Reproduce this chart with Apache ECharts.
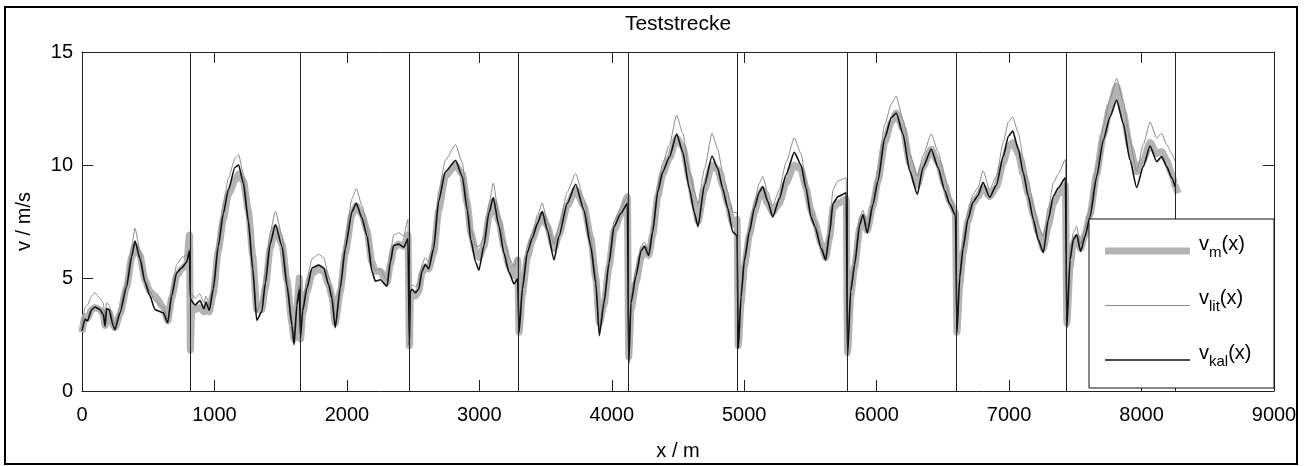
<!DOCTYPE html>
<html><head><meta charset="utf-8">
<script src="https://cdn.jsdelivr.net/npm/echarts@6/dist/echarts.min.js"></script>
<style>html,body{margin:0;padding:0;background:#fff}#c{width:1305px;height:466px}</style>
</head><body><div id="c"></div>
<script>
// distance along the test track (m)
const distance = [
  0, 23, 40, 73, 98, 136, 161, 174, 186, 204, 236, 249, 287, 337, 375, 400, 438, 476, 513, 551, 614, 647, 677, 715, 753, 790, 812,
  818, 828, 853, 891, 921, 936, 961, 991, 1029, 1067, 1105, 1155, 1183, 1218, 1256, 1289, 1319, 1357, 1385, 1420, 1460, 1510, 1548, 1585, 1601, 1623, 1641,
  1650, 1666, 1699, 1737, 1787, 1825, 1862, 1887, 1912, 1950, 1988, 2038, 2071, 2114, 2152, 2189, 2215, 2252, 2303, 2328, 2353, 2391, 2429, 2461,
  2472, 2479, 2492, 2517, 2542, 2567, 2592, 2617, 2655, 2693, 2743, 2821, 2871, 2909, 2935, 2972, 2997, 3035, 3073, 3105, 3148, 3186, 3224, 3262, 3289,
  3300, 3325, 3362, 3400, 3440, 3475, 3513, 3564, 3601, 3664, 3727, 3790, 3841, 3879, 3906, 3941, 3979, 4017, 4067, 4118,
  4128, 4145, 4183, 4221, 4246, 4279, 4309, 4347, 4385, 4435, 4490, 4536, 4586, 4623, 4651, 4699, 4757, 4800, 4837, 4875, 4913, 4946,
  4955, 4976, 5001, 5039, 5077, 5114, 5139, 5177, 5215, 5265, 5315, 5378, 5429, 5466, 5504, 5532, 5582, 5615, 5645, 5670, 5708, 5770,
  5780, 5804, 5834, 5872, 5897, 5929, 5972, 6010, 6061, 6111, 6148, 6199, 6249, 6307, 6350, 6412, 6463, 6514, 6551, 6595,
  6606, 6627, 6652, 6689, 6727, 6765, 6803, 6853, 6903, 6956, 6994, 7027, 7070, 7107, 7145, 7183, 7220, 7258, 7296, 7334, 7371, 7425,
  7436, 7460, 7485, 7510, 7540, 7573, 7611, 7661, 7711, 7762, 7812, 7862, 7912, 7963, 8013, 8064, 8114, 8152, 8190, 8228, 8253, 8275
];
// measured speed v_m(x) (m/s)
const vM = [
  2.60, 3.30, 3.20, 3.60, 3.70, 3.60, 3.40, 2.90, 3.50, 3.50, 2.90, 2.80, 3.40, 4.60, 5.90, 6.40, 6.00, 4.90, 4.40, 4.20, 3.70, 3.10, 4.10, 5.10, 5.40, 5.60, 6.90,
  1.80, 3.60, 3.60, 3.70, 3.50, 3.70, 3.50, 4.30, 6.20, 7.60, 8.70, 9.30, 9.60, 9.30, 8.00, 6.00, 3.60, 3.60, 4.60, 6.30, 7.20, 6.50, 4.90, 3.00, 2.30, 3.70, 5.00,
  2.30, 3.40, 4.40, 5.20, 5.40, 5.30, 4.70, 4.20, 3.00, 4.40, 6.10, 7.80, 8.20, 7.80, 7.10, 5.70, 5.30, 5.30, 4.80, 5.60, 6.30, 6.50, 6.40, 6.90,
  2.00, 4.00, 4.30, 4.20, 4.40, 5.20, 5.50, 5.40, 6.10, 8.00, 9.50, 10.00, 9.60, 8.30, 7.00, 6.20, 5.90, 6.40, 7.70, 8.40, 7.50, 6.40, 5.50, 5.10, 5.80,
  2.60, 4.30, 5.90, 6.70, 7.30, 7.80, 7.30, 6.30, 6.90, 8.20, 8.90, 8.20, 6.80, 5.00, 3.00, 3.80, 5.50, 7.10, 7.80, 8.60,
  1.50, 3.60, 4.80, 5.90, 6.30, 6.00, 6.90, 8.60, 9.60, 10.30, 11.20, 10.80, 9.40, 8.30, 7.50, 8.90, 10.00, 9.80, 9.10, 8.30, 7.40, 7.60,
  2.00, 3.90, 5.50, 6.90, 7.90, 8.60, 8.90, 8.30, 7.90, 8.30, 9.20, 10.00, 9.80, 9.00, 8.00, 7.50, 6.50, 5.90, 6.80, 8.10, 8.30, 8.50,
  1.70, 4.20, 5.50, 7.20, 7.70, 7.10, 8.20, 9.30, 11.00, 11.90, 12.30, 11.60, 10.10, 9.10, 9.90, 10.70, 10.10, 9.10, 8.40, 7.90,
  2.60, 4.70, 6.10, 7.50, 8.30, 8.60, 9.00, 8.60, 9.00, 10.10, 10.80, 11.00, 10.50, 9.60, 8.70, 7.80, 7.00, 6.30, 7.30, 8.30, 8.70, 9.10,
  3.00, 5.50, 6.50, 6.80, 6.30, 6.90, 7.80, 9.60, 11.30, 12.60, 13.50, 12.30, 10.80, 9.70, 10.20, 11.00, 10.50, 10.60, 10.20, 9.60, 9.10, 8.75
];
// literature model v_lit(x) (m/s)
const vLit = [
  3.00, 3.70, 3.80, 4.20, 4.35, 4.10, 3.90, 3.20, 3.90, 3.80, 3.10, 2.90, 3.70, 4.90, 6.40, 7.20, 6.20, 4.90, 4.40, 4.00, 3.70, 3.20, 4.50, 5.60, 5.90, 6.00, 6.30,
  4.30, 4.30, 4.10, 4.30, 3.90, 4.20, 3.80, 4.80, 6.80, 8.30, 9.40, 10.30, 10.45, 9.60, 7.80, 5.60, 3.50, 4.00, 5.30, 7.00, 7.95, 6.90, 5.00, 3.20, 2.30, 4.10, 4.70,
  2.50, 3.80, 5.00, 5.85, 6.05, 5.90, 5.10, 4.40, 3.00, 4.80, 6.70, 8.50, 8.95, 8.20, 7.30, 5.60, 5.35, 5.40, 4.90, 6.10, 6.90, 7.00, 6.85, 7.60,
  2.10, 4.60, 4.70, 4.60, 4.80, 5.60, 5.90, 5.70, 6.60, 8.80, 10.20, 10.90, 10.10, 8.50, 7.20, 6.40, 6.40, 6.80, 8.30, 9.20, 7.80, 6.70, 5.90, 5.50, 5.90,
  2.80, 4.80, 6.40, 7.00, 7.80, 8.32, 7.50, 6.50, 7.30, 8.80, 9.62, 8.50, 6.80, 5.10, 2.70, 4.10, 5.90, 7.50, 8.10, 8.60,
  1.30, 4.20, 5.40, 6.40, 6.60, 6.20, 7.30, 9.10, 10.10, 10.90, 12.20, 11.40, 9.70, 8.80, 8.30, 9.80, 11.40, 10.70, 9.70, 8.80, 7.90, 7.90,
  2.00, 4.40, 6.00, 7.30, 8.40, 9.20, 9.50, 8.80, 8.20, 8.90, 10.10, 11.20, 10.50, 9.30, 8.00, 7.60, 6.50, 5.95, 7.40, 8.90, 9.30, 9.43,
  1.70, 4.70, 6.00, 7.70, 8.00, 7.30, 8.60, 9.80, 11.80, 12.70, 13.05, 12.00, 10.50, 9.50, 10.40, 11.38, 10.60, 9.50, 8.60, 8.00,
  2.70, 5.30, 6.60, 7.90, 8.70, 9.00, 9.75, 8.90, 9.50, 11.00, 11.90, 12.12, 11.40, 10.30, 9.30, 8.20, 7.30, 6.85, 8.10, 9.20, 9.60, 10.24,
  3.00, 6.10, 7.00, 7.28, 6.50, 7.20, 8.10, 10.00, 11.70, 12.90, 13.84, 12.80, 11.10, 9.70, 10.90, 11.90, 11.20, 11.40, 10.90, 10.50, 10.16, null
];
// calibrated model v_kal(x) (m/s)
const vKal = [
  2.66, 3.18, 3.10, 3.60, 3.72, 3.60, 3.38, 2.87, 3.65, 3.60, 2.87, 2.72, 3.46, 4.63, 5.95, 6.63, 5.85, 4.80, 4.20, 3.60, 3.46, 3.02, 4.20, 5.23, 5.45, 5.70, 6.20,
  4.10, 3.98, 3.80, 4.00, 3.64, 3.94, 3.57, 4.50, 6.40, 7.85, 8.90, 9.90, 10.00, 9.20, 7.50, 5.40, 3.13, 3.50, 4.80, 6.50, 7.37, 6.40, 4.65, 2.90, 2.05, 3.80, 4.50,
  2.37, 3.54, 4.57, 5.45, 5.57, 5.45, 4.70, 4.10, 2.80, 4.57, 6.30, 7.93, 8.30, 7.65, 6.85, 5.30, 4.86, 4.92, 4.63, 5.70, 6.44, 6.50, 6.36, 6.73,
  2.00, 4.40, 4.50, 4.35, 4.50, 5.30, 5.60, 5.40, 6.30, 8.40, 9.70, 10.20, 9.50, 8.00, 6.70, 5.70, 5.35, 6.45, 7.90, 8.56, 7.30, 6.10, 5.25, 4.74, 4.96,
  2.60, 4.50, 6.12, 6.77, 7.43, 7.94, 7.13, 5.80, 6.84, 8.30, 9.15, 8.00, 6.40, 4.78, 2.45, 3.90, 5.65, 7.26, 7.85, 8.29,
  1.20, 3.90, 5.10, 6.20, 6.40, 6.00, 7.04, 8.80, 9.70, 10.35, 11.37, 10.57, 8.95, 7.90, 7.28, 9.10, 10.40, 9.85, 8.97, 8.10, 7.04, 6.87,
  1.90, 4.15, 5.76, 7.04, 8.10, 8.80, 9.05, 8.40, 7.70, 8.50, 9.57, 10.56, 10.00, 8.97, 7.70, 7.30, 6.30, 5.80, 7.00, 8.30, 8.60, 8.77,
  1.55, 4.40, 5.60, 7.35, 7.80, 7.00, 8.26, 9.30, 11.20, 12.10, 12.30, 11.37, 9.75, 8.70, 9.90, 10.70, 9.90, 8.87, 8.28, 7.77,
  2.60, 5.00, 6.30, 7.60, 8.35, 8.65, 9.24, 8.57, 9.10, 10.38, 11.27, 11.50, 10.69, 9.65, 8.62, 7.59, 6.70, 6.12, 7.59, 8.62, 8.99, 9.43,
  2.80, 5.80, 6.70, 6.91, 6.18, 6.84, 7.72, 9.49, 11.10, 12.13, 12.87, 11.84, 10.23, 9.00, 9.93, 10.84, 10.15, 10.37, 9.93, 9.43, 9.05, null
];
// section boundaries (m)
const sectionBounds = [815, 1646, 2469, 3297, 4125, 4951, 5776, 6602, 7432, 8253];
const seriesNames = ['v_m(x)', 'v_lit(x)', 'v_kal(x)'];
const titleText = 'Teststrecke';
const xAxisName = 'x / m';
const yAxisName = 'v / m/s';

const FONT = 'Liberation Sans, Arial, Helvetica, sans-serif';
const pairs = arr => distance.map((d, i) => [d, arr[i]]);
// legend sample: a bar of thickness t centred 7px below the text centre inside an 85x28 icon box
const legendBar = t => 'path://M0,0L85,0M0,28L85,28M0,' + (21 - t / 2) + 'L85,' + (21 - t / 2) +
  'L85,' + (21 + t / 2) + 'L0,' + (21 + t / 2) + 'Z';

const chart = echarts.init(document.getElementById('c'), null, {renderer: 'canvas'});
const axisCommon = {
  axisLine: {show: true, onZero: false, lineStyle: {color: '#222', width: 1}},
  axisTick: {show: true, inside: true, length: 11, lineStyle: {color: '#222', width: 1}},
  splitLine: {show: false}
};
chart.setOption({
  animation: false,
  backgroundColor: '#fff',
  title: {
    text: titleText, left: 678, top: 14, padding: 0, textAlign: 'center',
    textStyle: {fontFamily: FONT, fontSize: 21, fontWeight: 'normal', color: '#000'}
  },
  grid: {left: 82, right: 31, top: 52, bottom: 74, containLabel: false},
  xAxis: [
    Object.assign({
      type: 'value', min: 0, max: 9000, interval: 1000, position: 'bottom',
      name: xAxisName, nameLocation: 'middle', nameGap: 50,
      nameTextStyle: {fontFamily: FONT, fontSize: 20, color: '#000'},
      axisLabel: {fontFamily: FONT, fontSize: 20, color: '#000', margin: 14, formatter: v => String(v)}
    }, axisCommon),
    Object.assign({
      type: 'value', min: 0, max: 9000, interval: 1000, position: 'top',
      axisLabel: {show: false}
    }, axisCommon)
  ],
  yAxis: [
    Object.assign({
      type: 'value', min: 0, max: 15, interval: 5, position: 'left',
      name: yAxisName, nameLocation: 'middle', nameGap: 48,
      nameTextStyle: {fontFamily: FONT, fontSize: 20, color: '#000'},
      axisLabel: {fontFamily: FONT, fontSize: 20, color: '#000', margin: 9, formatter: v => String(v)}
    }, axisCommon),
    Object.assign({
      type: 'value', min: 0, max: 15, interval: 5, position: 'right',
      axisLabel: {show: false}
    }, axisCommon)
  ],
  legend: {
    orient: 'vertical', left: 1105, top: 230, padding: 0, itemGap: 24.5,
    itemWidth: 85, itemHeight: 28, z: 120, selectedMode: false,
    data: [
      {name: seriesNames[0], icon: legendBar(7), itemStyle: {color: '#b3b3b3', borderWidth: 0}},
      {name: seriesNames[1], icon: legendBar(1), itemStyle: {color: '#8c8c8c', borderWidth: 0}},
      {name: seriesNames[2], icon: legendBar(1.6), itemStyle: {color: '#111', borderWidth: 0}}
    ],
    formatter: name => name.replace(/^v_(\w+)\(x\)$/, '{v|v}{s|$1}{a|(x)}'),
    textStyle: {
      fontFamily: FONT, fontSize: 20, color: '#000',
      rich: {
        v: {fontFamily: FONT, fontSize: 20, lineHeight: 20, verticalAlign: 'top', padding: [0, 0, 0, 4], color: '#000'},
        a: {fontFamily: FONT, fontSize: 20, lineHeight: 20, verticalAlign: 'top', color: '#000'},
        s: {fontFamily: FONT, fontSize: 15, lineHeight: 15, verticalAlign: 'top', padding: [11, 0, 0, 0], color: '#000'}
      }
    }
  },
  graphic: [
    {type: 'rect', z: 100, silent: true,
     shape: {x: 1089, y: 219, width: 185, height: 169},
     style: {fill: '#fff', stroke: '#111', lineWidth: 1}},
    {type: 'rect', z: 100, silent: true,
     shape: {x: 5, y: 7, width: 1292, height: 457},
     style: {fill: 'none', stroke: '#000', lineWidth: 2}}
  ],
  series: [
    {
      name: seriesNames[0], type: 'line', data: pairs(vM), symbol: 'none', showSymbol: false,
      smooth: 0.2, smoothMonotone: 'x', z: 2,
      lineStyle: {color: '#b3b3b3', width: 7, join: 'round', cap: 'butt'}, itemStyle: {color: '#b3b3b3'}
    },
    {
      name: seriesNames[1], type: 'line', data: pairs(vLit), symbol: 'none', showSymbol: false,
      smooth: 0.2, smoothMonotone: 'x', z: 3,
      lineStyle: {color: '#8c8c8c', width: 1}, itemStyle: {color: '#8c8c8c'}
    },
    {
      name: seriesNames[2], type: 'line', data: pairs(vKal), symbol: 'none', showSymbol: false,
      smooth: 0.2, smoothMonotone: 'x', z: 4,
      lineStyle: {color: '#111', width: 1.6}, itemStyle: {color: '#111'},
      markLine: {
        silent: true, symbol: ['none', 'none'], label: {show: false}, animation: false,
        lineStyle: {color: '#222', width: 1, type: 'solid'},
        emphasis: {disabled: true},
        data: sectionBounds.map(b => ({xAxis: b}))
      }
    }
  ]
});
</script>
</body></html>
